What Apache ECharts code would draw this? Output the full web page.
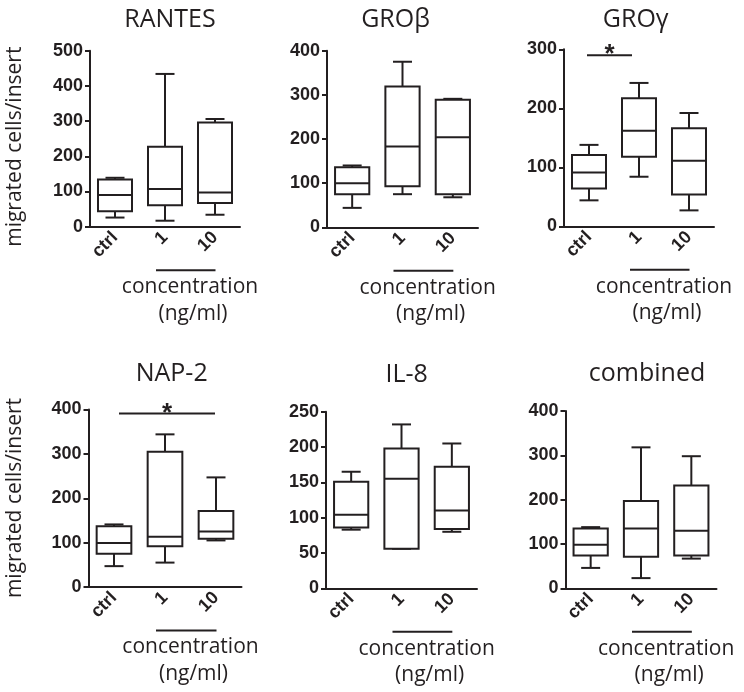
<!DOCTYPE html>
<html><head><meta charset="utf-8">
<script src="https://cdn.jsdelivr.net/npm/echarts@6/dist/echarts.min.js"></script>
<style>html,body{margin:0;padding:0;background:#fff}#c{width:744px;height:692px}</style>
</head><body><div id="c"></div>
<script>
// ---- data ----
const categories = ['ctrl', '1', '10'];
const titles = ['RANTES', 'GROβ', 'GROγ', 'NAP-2', 'IL-8', 'combined'];
// each box: [min, Q1, median, Q3, max]
const rantes   = [[26, 44, 90, 134, 139], [17, 61, 107, 227, 434], [34, 67, 97, 296, 306]];
const groBeta  = [[44, 75, 100, 136, 140], [75, 93, 183, 319, 375], [68, 75, 204, 289, 291]];
const groGamma = [[44, 64, 91, 121, 138], [84, 118, 162, 217, 243], [27, 54, 111, 166, 192]];
const nap2     = [[47, 75, 99, 137, 141], [55, 92, 113, 305, 344], [105, 109, 125, 171, 247]];
const il8      = [[83, 86, 104, 151, 165], [56, 56, 155, 198, 232], [80, 84, 110, 172, 205]];
const combined = [[46, 74, 98, 135, 138], [23, 71, 135, 197, 318], [67, 74, 130, 232, 298]];
const yMax      = [500, 400, 300, 400, 250, 400];
const yInterval = [100, 100, 100, 100, 50, 100];
// significance bars: [fromCategory, toCategory, value]
const sigGroGamma = ['ctrl', '1', 290];
const sigNap2     = ['ctrl', '10', 391];
const yAxisTitle = 'migrated cells/insert';
const concLabel1 = 'concentration';
const concLabel2 = '(ng/ml)';

const panels = [rantes, groBeta, groGamma, nap2, il8, combined];
const sigs = [null, null, sigGroGamma, sigNap2, null, null];

// ---- layout / style ----
const INK = '#231f20';
const grids = [
  {left: 90,  top: 50.7, width: 150, height: 176},
  {left: 327, top: 50.7, width: 151, height: 176.6},
  {left: 564, top: 49.3, width: 150, height: 177},
  {left: 88.5, top: 409.5, width: 153, height: 177.5},
  {left: 326, top: 411.7, width: 151, height: 176.6},
  {left: 565.5, top: 411, width: 151, height: 177.3}
];
const titlePos = [[165, 15], [390.5, 15], [630.7, 15], [166.7, 369], [401.7, 370], [642, 369]];

const chart = echarts.init(document.getElementById('c'), null, {renderer: 'canvas'});

function renderBox(params, api) {
  const c = api.value(0);
  const mn = api.coord([c, api.value(1)]);
  const q1 = api.coord([c, api.value(2)]);
  const md = api.coord([c, api.value(3)]);
  const q3 = api.coord([c, api.value(4)]);
  const mx = api.coord([c, api.value(5)]);
  const bw = api.size([1, 0])[0] * 0.68;
  const cw = 19;
  const cx = q1[0];
  const ls = {stroke: INK, lineWidth: 2};
  return {type: 'group', children: [
    {type: 'line', shape: {x1: cx, y1: q3[1], x2: cx, y2: mx[1]}, style: ls},
    {type: 'line', shape: {x1: cx - cw / 2, y1: mx[1], x2: cx + cw / 2, y2: mx[1]}, style: ls},
    {type: 'line', shape: {x1: cx, y1: q1[1], x2: cx, y2: mn[1]}, style: ls},
    {type: 'line', shape: {x1: cx - cw / 2, y1: mn[1], x2: cx + cw / 2, y2: mn[1]}, style: ls},
    {type: 'rect', shape: {x: cx - bw / 2, y: q3[1], width: bw, height: q1[1] - q3[1]}, style: {stroke: INK, lineWidth: 2, fill: '#fff'}},
    {type: 'line', shape: {x1: cx - bw / 2, y1: md[1], x2: cx + bw / 2, y2: md[1]}, style: ls}
  ]};
}

function renderSig(params, api) {
  const a = api.coord([api.value(0), api.value(2)]);
  const b = api.coord([api.value(1), api.value(2)]);
  const wide = api.value(1) === 2;
  const x1 = a[0] + (wide ? 5 : -2);
  const x2 = b[0] + (wide ? -1 : -7);
  return {type: 'group', children: [
    {type: 'line', shape: {x1: x1, y1: a[1], x2: x2, y2: a[1]}, style: {stroke: INK, lineWidth: 2}},
    {type: 'text', x: (x1 + x2) / 2, y: a[1], style: {text: '*', fill: INK, font: 'bold 26px "Liberation Sans"', align: 'center', verticalAlign: 'middle'}}
  ]};
}

const option = {
  animation: false,
  backgroundColor: '#fff',
  title: titles.map((t, i) => ({
    text: t, left: titlePos[i][0], top: titlePos[i][1], textAlign: 'center', textVerticalAlign: 'middle',
    textStyle: {fontFamily: 'Open Sans', fontWeight: 'normal', fontSize: 25, color: INK}
  })),
  grid: grids,
  xAxis: grids.map((g, i) => ({
    type: 'category', gridIndex: i, data: categories,
    axisLine: {lineStyle: {color: INK, width: 2}},
    axisTick: {alignWithLabel: true, length: 5, lineStyle: {color: INK, width: 2}},
    axisLabel: {rotate: 45, fontFamily: 'Liberation Sans', fontWeight: 'bold', fontSize: 18, color: INK, margin: 8},
    splitLine: {show: false}
  })),
  yAxis: grids.map((g, i) => ({
    type: 'value', gridIndex: i, min: 0, max: yMax[i], interval: yInterval[i],
    axisLine: {show: true, lineStyle: {color: INK, width: 2}},
    axisTick: {show: true, length: 5, lineStyle: {color: INK, width: 2}},
    axisLabel: {fontFamily: 'Liberation Sans', fontWeight: 'bold', fontSize: 18, color: INK, margin: 7},
    splitLine: {show: false}
  })),
  series: []
};

panels.forEach((p, i) => {
  option.series.push({
    type: 'custom', xAxisIndex: i, yAxisIndex: i, renderItem: renderBox,
    encode: {x: 0, y: [1, 2, 3, 4, 5]},
    data: p.map((v, k) => [k].concat(v)), z: 3
  });
  if (sigs[i]) {
    const s = sigs[i];
    option.series.push({
      type: 'custom', xAxisIndex: i, yAxisIndex: i, renderItem: renderSig,
      encode: {x: [0, 1], y: 2},
      data: [[categories.indexOf(s[0]), categories.indexOf(s[1]), s[2]]], z: 4
    });
  }
});

chart.setOption(option);

// annotations placed via the axes' own scales
const graphics = [];
[[0, 146.7], [3, 498]].forEach(([gi, yc]) => {
  graphics.push({type: 'text', x: 15, y: yc, rotation: Math.PI / 2,
    style: {text: yAxisTitle, fill: INK, font: '21px "Open Sans"', align: 'center', verticalAlign: 'middle'}});
});
grids.forEach((g, i) => {
  const p1 = chart.convertToPixel({gridIndex: i}, [1, 0]);
  const p10 = chart.convertToPixel({gridIndex: i}, [2, 0]);
  const ly = p1[1] + 43.5;
  const mid = (p1[0] + p10[0]) / 2;
  graphics.push({type: 'line', shape: {x1: p1[0] - 9, y1: ly, x2: p10[0] + 0.5, y2: ly}, style: {stroke: INK, lineWidth: 2}});
  graphics.push({type: 'text', x: mid, y: ly + 17, style: {text: concLabel1, fill: INK, font: '21px "Open Sans"', align: 'center', verticalAlign: 'middle'}});
  graphics.push({type: 'text', x: mid + 3, y: ly + 43.5, style: {text: concLabel2, fill: INK, font: '21px "Open Sans"', align: 'center', verticalAlign: 'middle'}});
});
chart.setOption({graphic: graphics});
</script>
</body></html>
